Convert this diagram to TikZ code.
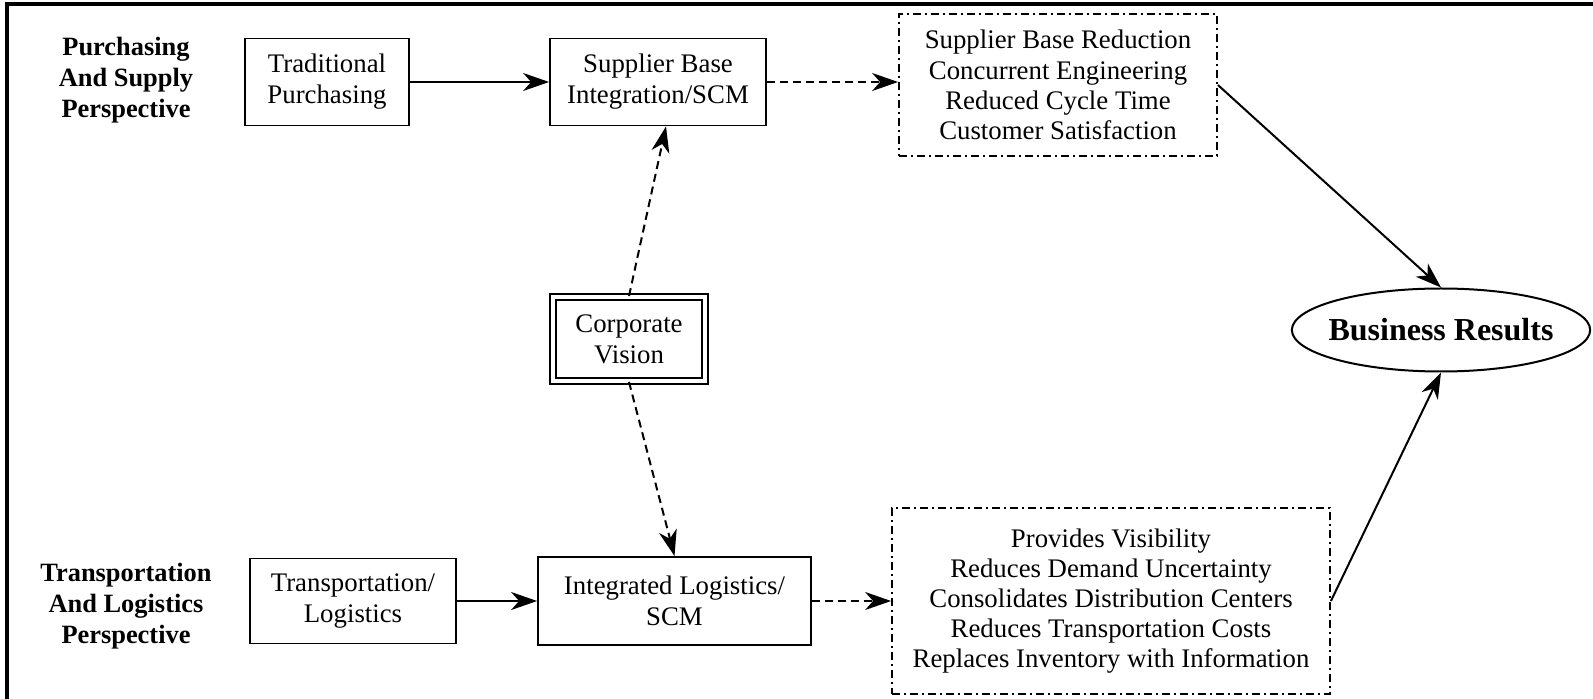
\documentclass[tikz,border=0pt]{standalone}
\usepackage{fontspec}
\setmainfont{Liberation Serif}
\usetikzlibrary{arrows.meta,shapes.geometric}

\begin{document}
\begin{tikzpicture}[x=0.5pt,y=-0.5pt,>={Stealth[length=13pt,width=9pt,inset=4pt]},
        box/.style={draw,line width=0.9pt,align=center,inner sep=0pt,font=\fontsize{13.4}{15.5}\selectfont},
        dotbox/.style={box,dash pattern=on 4pt off 2pt on 1pt off 2pt,font=\fontsize{13.4}{15.1}\selectfont},
        side/.style={align=center,font=\fontsize{13.2}{15.5}\selectfont\bfseries},
        link/.style={->,line width=1pt},
        dlink/.style={link,dash pattern=on 4pt off 2.5pt}]
        \useasboundingbox (0,0) rectangle (1593,699);
        \draw[line width=2pt] (7,699) -- (7,4) -- (1593,4);
        \node[side] (pasp) at (126,80) {Purchasing\\And Supply\\Perspective};
        \node[side] (tlp) at (126,606) {Transportation\\And Logistics\\Perspective};
        \node[box,minimum width=82pt,minimum height=43.5pt] (tp) at (327,82) {Traditional\\Purchasing};
        \node[box,minimum width=108pt,minimum height=43.5pt] (sbi) at (658,82) {Supplier Base\\Integration/SCM};
        \node[dotbox,minimum width=159pt,minimum height=71pt] (tbox) at (1058,85)
            {Supplier Base Reduction\\Concurrent Engineering\\Reduced Cycle Time\\Customer Satisfaction};
        \node[box,double,double distance=2pt,line width=1pt,minimum width=76pt,minimum height=42pt] (cv) at (629,339) {Corporate\\Vision};
        \node[box,minimum width=103pt,minimum height=42.5pt] (tl) at (353,601) {Transportation/\\Logistics};
        \node[box,minimum width=136.5pt,minimum height=44pt] (ils) at (674.5,601) {Integrated Logistics/\\SCM};
        \node[dotbox,minimum width=219pt,minimum height=93pt] (bbox) at (1111,601)
            {Provides Visibility\\Reduces Demand Uncertainty\\Consolidates Distribution Centers\\Reduces Transportation Costs\\Replaces Inventory with Information};
        \node[draw,ellipse,line width=1pt,inner ysep=0pt,inner xsep=-3.5pt,minimum width=147pt,minimum height=41.5pt,
            font=\fontsize{16}{19}\selectfont\bfseries] (br) at (1441,330) {Business Results};
        \draw[link] (tp) -- (sbi);
        \draw[link] (tl) -- (ils);
        \draw[dlink] (sbi) -- (sbi -| tbox.west);
        \draw[dlink] (ils) -- (bbox);
        \draw[dlink] (cv.north) -- ([xshift=4pt]sbi.south);
        \draw[dlink] (cv.south) -- (ils.north);
        \draw[link] (tbox.east) -- (br.north);
        \draw[link] (bbox.east) -- (br.south);
\end{tikzpicture}
\end{document}
